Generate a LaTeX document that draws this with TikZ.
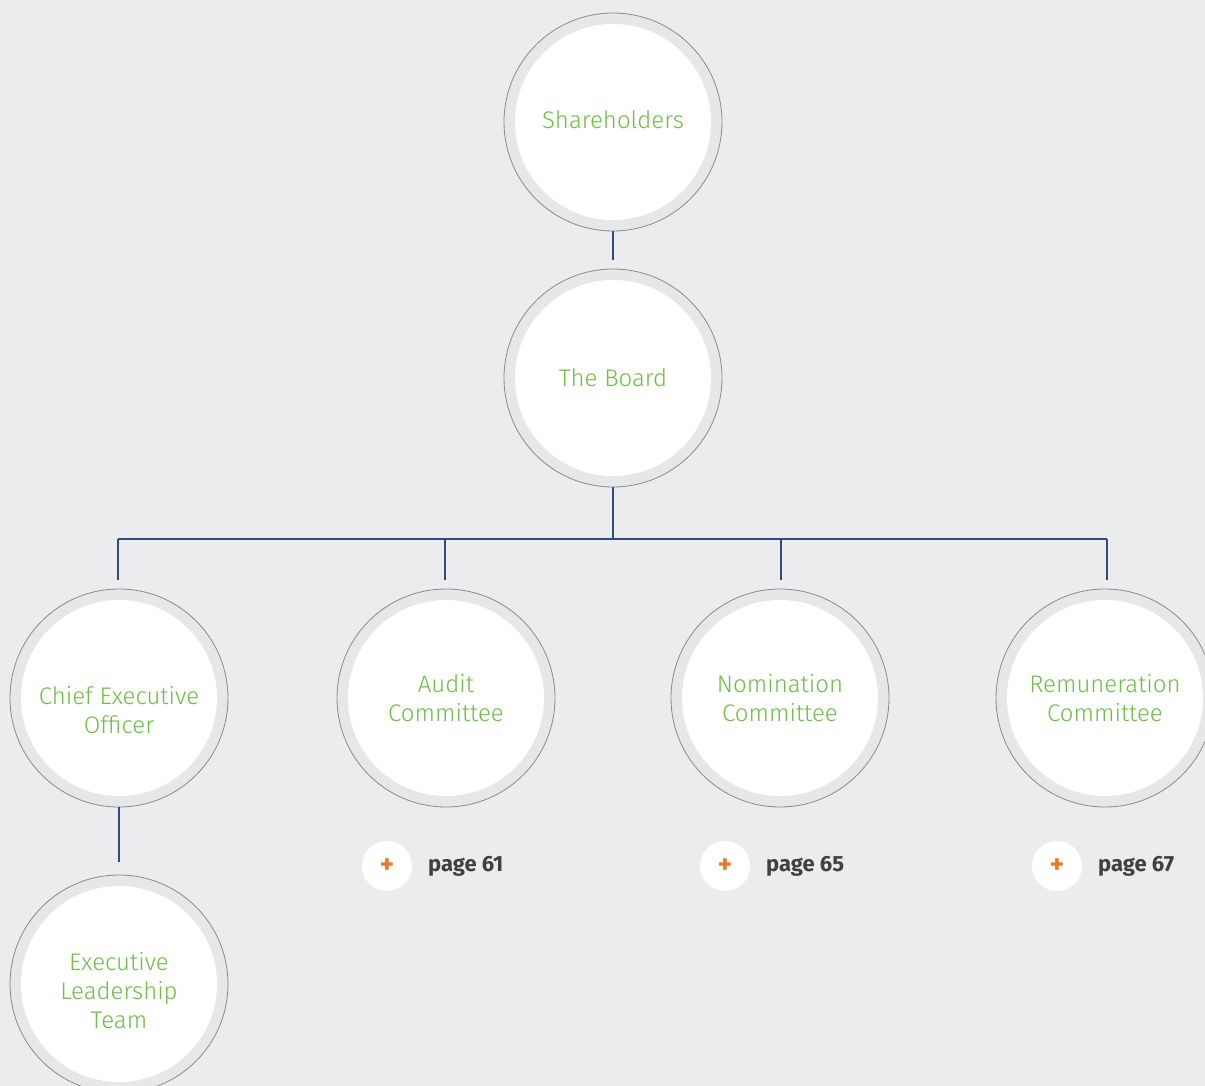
\documentclass[tikz,border=0pt]{standalone}
\usepackage{fontspec}
\setmainfont{Fira Sans}
\newfontfamily\lightfont{Fira Sans Light}
\usetikzlibrary{calc}
\definecolor{bgc}{HTML}{ECECEE}
\definecolor{ringc}{HTML}{E7E7E9}
\definecolor{edgec}{HTML}{8A8A8C}
\definecolor{labelc}{HTML}{6CBE45}
\definecolor{linec}{HTML}{2E4C82}
\definecolor{plusc}{HTML}{EE7623}
\definecolor{pagec}{HTML}{404042}
\newcommand{\lowered}[2]{\raisebox{-#1}[\height][\depth]{\begin{tabular}{@{}c@{}}#2\end{tabular}}}
\tikzset{
  unit/.style={circle, minimum size=218pt, inner sep=0pt, draw=edgec, line width=0.8pt,
    fill=ringc, align=center, text=labelc, font=\lightfont\fontsize{24}{29}\selectfont,
    path picture={\fill[white] (path picture bounding box.center) circle (98pt);}},
  conn/.style={draw=linec, line width=1.4pt},
  plusbtn/.style={circle, fill=white, minimum size=50pt, inner sep=0pt, text=plusc,
    font=\bfseries\fontsize{27}{27}\selectfont},
  pagelbl/.style={anchor=west, text=pagec, inner sep=0pt, font=\bfseries\fontsize{22}{22}\selectfont}
}
\begin{document}
\begin{tikzpicture}[x=1pt,y=-1pt]
  \useasboundingbox (0,0) rectangle (1205,1086);
  \clip (0,0) rectangle (1205,1086);
  \fill[bgc] (0,0) rectangle (1205,1086);

  % organisation units
  \node[unit] (sh)  at (613,122) {\lowered{1pt}{Shareholders}};
  \node[unit] (bd)  at (613,378) {The Board};
  \node[unit] (ceo) at (119,698) {\lowered{15pt}{Chief Executive\\Officer}};
  \node[unit] (aud) at (446,698) {Audit\\Committee};
  \node[unit] (nom) at (780,698) {Nomination\\Committee};
  \node[unit] (rem) at (1105,698) {Remuneration\\Committee};
  \node[unit] (elt) at (119,984) {\lowered{10pt}{Executive\\Leadership\\Team}};

  % connector end points
  \coordinate (shend) at (613,260);
  \coordinate (bar)   at (613,539);
  \coordinate (barL)  at (118,539);
  \coordinate (barA)  at (445,539);
  \coordinate (barN)  at (781,539);
  \coordinate (barR)  at (1107,539);
  \coordinate (endL)  at (118,580);
  \coordinate (endA)  at (445,580);
  \coordinate (endN)  at (781,580);
  \coordinate (endR)  at (1107,580);
  \coordinate (ceoend) at (119,862);

  \draw[conn] (sh.south) -- (shend);
  \draw[conn] (bd.south) -- (bar);
  \draw[conn] (barL) -- (barR);
  \draw[conn] (barL) -- (endL);
  \draw[conn] (barA) -- (endA);
  \draw[conn] (barN) -- (endN);
  \draw[conn] (barR) -- (endR);
  \draw[conn] (ceo.south) -- (ceoend);

  % page references
  \node[plusbtn] (p1) at (387,866) {+};
  \node[pagelbl] (t1) at (428,866) {page 61};
  \node[plusbtn] (p2) at (725,866) {+};
  \node[pagelbl] (t2) at (766,866) {page 65};
  \node[plusbtn] (p3) at (1057,866) {+};
  \node[pagelbl] (t3) at (1098,866) {page 67};
\end{tikzpicture}
\end{document}
